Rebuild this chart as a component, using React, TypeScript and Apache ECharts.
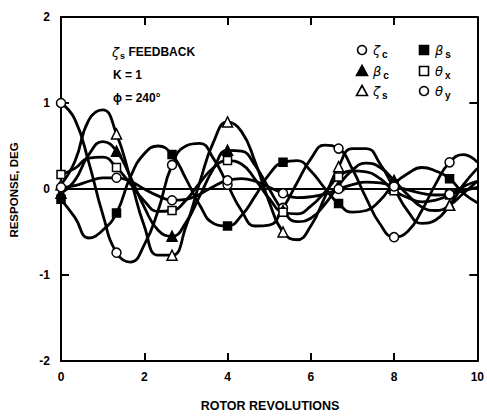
import React, { useEffect, useRef } from "react";
import * as echarts from "echarts";

// rotor revolutions sampled every 1/3 revolution
const revolutions = [
  0, 0.333, 0.667, 1, 1.333, 1.667, 2, 2.333, 2.667, 3, 3.333, 3.667, 4, 4.333, 4.667, 5,
  5.333, 5.667, 6, 6.333, 6.667, 7, 7.333, 7.667, 8, 8.333, 8.667, 9, 9.333, 9.667, 10,
];

// response, deg
const zetaC = [
  1.0, 0.81, 0.31, -0.29, -0.74, -0.85, -0.65, -0.25, 0.28, 0.5, 0.53, 0.35, 0.05, -0.25, -0.43, -0.42,
  -0.22, 0.07, 0.35, 0.51, 0.47, 0.23, -0.11, -0.41, -0.56, -0.49, -0.25, 0.06, 0.31, 0.4, 0.31,
];
const betaC = [
  -0.05, 0.1, 0.4, 0.55, 0.44, 0.14, -0.21, -0.48, -0.55, -0.39, -0.08, 0.24, 0.45, 0.44, 0.27, 0.0,
  -0.25, -0.38, -0.34, -0.18, 0.04, 0.22, 0.3, 0.25, 0.1, -0.07, -0.21, -0.25, -0.19, -0.05, 0.09,
];
const zetaS = [
  0.05, 0.32, 0.8, 0.92, 0.64, 0.12, -0.43, -0.77, -0.77, -0.44, 0.08, 0.55, 0.78, 0.67, 0.31, -0.15,
  -0.5, -0.59, -0.43, -0.1, 0.26, 0.47, 0.47, 0.29, 0.01, -0.26, -0.4, -0.36, -0.19, 0.05, 0.24,
];
const betaS = [
  -0.12, -0.33, -0.57, -0.48, -0.28, 0.14, 0.41, 0.5, 0.4, 0.12, -0.19, -0.4, -0.43, -0.31, -0.08, 0.17,
  0.31, 0.33, 0.21, 0.01, -0.17, -0.27, -0.25, -0.13, 0.06, 0.18, 0.25, 0.21, 0.12, -0.05, -0.16,
];
const thetaX = [
  0.17, 0.24, 0.36, 0.37, 0.25, 0.06, -0.14, -0.26, -0.25, -0.13, 0.07, 0.25, 0.33, 0.29, 0.11, -0.11,
  -0.27, -0.29, -0.2, -0.04, 0.14, 0.21, 0.2, 0.12, -0.02, -0.1, -0.15, -0.13, -0.07, 0.03, 0.09,
];
const thetaY = [
  0.02, 0.04, 0.09, 0.13, 0.13, 0.09, 0.0, -0.08, -0.13, -0.12, -0.06, 0.03, 0.1, 0.12, 0.09, 0.02,
  -0.05, -0.1, -0.09, -0.06, 0.0, 0.05, 0.08, 0.07, 0.03, -0.01, -0.05, -0.07, -0.06, -0.02, 0.02,
];

const xTicks = [0, 2, 4, 6, 8, 10];
const yTicks = [-2, -1, 0, 1, 2];

const FONT = "'Liberation Sans', Arial, sans-serif";
const GREEK = "'DejaVu Sans', sans-serif";

type Mark = { name: string; values: number[]; symbol: string; filled: boolean; size: number };

const seriesDefs: Mark[] = [
  { name: "ζc", values: zetaC, symbol: "circle", filled: false, size: 9 },
  { name: "βc", values: betaC, symbol: "triangle", filled: true, size: 10 },
  { name: "ζs", values: zetaS, symbol: "triangle", filled: false, size: 10 },
  { name: "βs", values: betaS, symbol: "rect", filled: true, size: 8 },
  { name: "θx", values: thetaX, symbol: "rect", filled: false, size: 8 },
  { name: "θy", values: thetaY, symbol: "circle", filled: false, size: 9 },
];

export default function App() {
  const ref = useRef<HTMLDivElement>(null);
  useEffect(() => {
    if (!ref.current) return;
    const chart = echarts.init(ref.current, null, { renderer: "svg" });
    const series: any[] = [];
    seriesDefs.forEach((d, si) => {
      series.push({
        type: "line",
        name: d.name,
        data: revolutions.map((x, i) => [x, d.values[i]]),
        smooth: 0.5,
        showSymbol: false,
        lineStyle: { color: "#000", width: 2.8 },
        z: 2,
        markLine:
          si === 0
            ? {
                silent: true,
                symbol: "none",
                label: { show: false },
                lineStyle: { color: "#000", width: 2.2, type: "solid" },
                data: [{ yAxis: 0 }],
              }
            : undefined,
      });
      series.push({
        type: "scatter",
        name: d.name + "-m",
        data: revolutions
          .map((x, i) => [x, d.values[i], i])
          .filter((p) => (p[2] as number) % 4 === 0)
          .map((p) => [p[0], p[1]]),
        symbol: d.symbol,
        symbolSize: d.size,
        itemStyle: {
          color: d.filled ? "#000" : "#fff",
          borderColor: "#000",
          borderWidth: 1.5,
          opacity: 1,
        },
        z: 5,
      });
    });

    const legendItems = [
      { x: 362, y: 50, sym: "circle", filled: false, g: "ζ", s: "c" },
      { x: 362, y: 71, sym: "triangle", filled: true, g: "β", s: "c" },
      { x: 362, y: 91, sym: "triangle", filled: false, g: "ζ", s: "s" },
      { x: 424, y: 50, sym: "rect", filled: true, g: "β", s: "s" },
      { x: 424, y: 71, sym: "rect", filled: false, g: "θ", s: "x" },
      { x: 424, y: 91, sym: "circle", filled: false, g: "θ", s: "y" },
    ];
    const graphics: any[] = [];
    legendItems.forEach((it) => {
      const st = { fill: it.filled ? "#000" : "#fff", stroke: "#000", lineWidth: 1.6 };
      if (it.sym === "circle") {
        graphics.push({ type: "circle", shape: { cx: it.x, cy: it.y, r: 4.5 }, style: st });
      } else if (it.sym === "rect") {
        graphics.push({ type: "rect", shape: { x: it.x - 4.5, y: it.y - 4.5, width: 9, height: 9 }, style: st });
      } else {
        graphics.push({
          type: "polygon",
          shape: { points: [[it.x, it.y - 5.5], [it.x + 5.5, it.y + 4.5], [it.x - 5.5, it.y + 4.5]] },
          style: st,
        });
      }
      graphics.push({
        type: "text",
        x: it.x + 11,
        y: it.y,
        style: {
          text: `{g|${it.g}}{s|${it.s}}`,
          verticalAlign: "middle",
          rich: {
            g: { fontFamily: GREEK, fontSize: 13, fontStyle: "italic", fill: "#000" },
            s: { fontFamily: FONT, fontSize: 10, fontWeight: "bold", fill: "#000", padding: [8, 0, 0, 2] },
          },
        },
      });
    });
    // annotation block
    graphics.push({
      type: "text",
      x: 112,
      y: 52,
      style: {
        text: "{g|ζ}{s|s} {b|FEEDBACK}",
        verticalAlign: "middle",
        rich: {
          g: { fontFamily: GREEK, fontSize: 13, fontStyle: "italic", fill: "#000" },
          s: { fontFamily: FONT, fontSize: 9, fontWeight: "bold", fill: "#000", padding: [8, 0, 0, 1] },
          b: { fontFamily: FONT, fontSize: 12, fontWeight: "bold", fill: "#000" },
        },
      },
    });
    graphics.push({
      type: "text",
      x: 113,
      y: 75,
      style: { text: "K = 1", fontFamily: FONT, fontSize: 12, fontWeight: "bold", fill: "#000", verticalAlign: "middle" },
    });
    graphics.push({
      type: "text",
      x: 113,
      y: 98,
      style: { text: "ϕ = 240°", fontFamily: FONT, fontSize: 12, fontWeight: "bold", fill: "#000", verticalAlign: "middle" },
    });
    // axis titles
    graphics.push({
      type: "text",
      x: 270,
      y: 406,
      style: {
        text: "ROTOR REVOLUTIONS",
        fontFamily: FONT,
        fontSize: 12.5,
        fontWeight: "bold",
        fill: "#000",
        align: "center",
        verticalAlign: "middle",
      },
    });
    graphics.push({
      type: "text",
      x: 14,
      y: 190,
      rotation: Math.PI / 2,
      style: {
        text: "RESPONSE, DEG",
        fontFamily: FONT,
        fontSize: 11.5,
        fontWeight: "bold",
        fill: "#000",
        align: "center",
        verticalAlign: "middle",
      },
    });

    const axisLine = { show: true, onZero: false, lineStyle: { color: "#000", width: 2 } };
    const tickStyle = { show: true, inside: true, length: 8, lineStyle: { color: "#000", width: 2 } };
    chart.setOption({
      animation: false,
      backgroundColor: "#fff",
      grid: { left: 61, top: 17, width: 417, height: 344, containLabel: false },
      xAxis: [
        {
          type: "value",
          min: xTicks[0],
          max: xTicks[xTicks.length - 1],
          interval: 2,
          position: "bottom",
          axisLine,
          axisTick: tickStyle,
          splitLine: { show: false },
          axisLabel: { color: "#000", fontFamily: FONT, fontWeight: "bold", fontSize: 12, margin: 10 },
        },
        {
          type: "value",
          min: xTicks[0],
          max: xTicks[xTicks.length - 1],
          interval: 2,
          position: "top",
          axisLine,
          axisTick: tickStyle,
          splitLine: { show: false },
          axisLabel: { show: false },
        },
      ],
      yAxis: [
        {
          type: "value",
          min: yTicks[0],
          max: yTicks[yTicks.length - 1],
          interval: 1,
          position: "left",
          axisLine,
          axisTick: tickStyle,
          splitLine: { show: false },
          axisLabel: { color: "#000", fontFamily: FONT, fontWeight: "bold", fontSize: 12, margin: 11 },
        },
        {
          type: "value",
          min: yTicks[0],
          max: yTicks[yTicks.length - 1],
          interval: 1,
          position: "right",
          axisLine,
          axisTick: tickStyle,
          splitLine: { show: false },
          axisLabel: { show: false },
        },
      ],
      graphic: graphics,
      series,
    });
    return () => chart.dispose();
  }, []);
  return (
    <div
      ref={ref}
      style={{ position: "fixed", left: 0, top: 0, width: 487, height: 416, background: "#fff" }}
    />
  );
}
